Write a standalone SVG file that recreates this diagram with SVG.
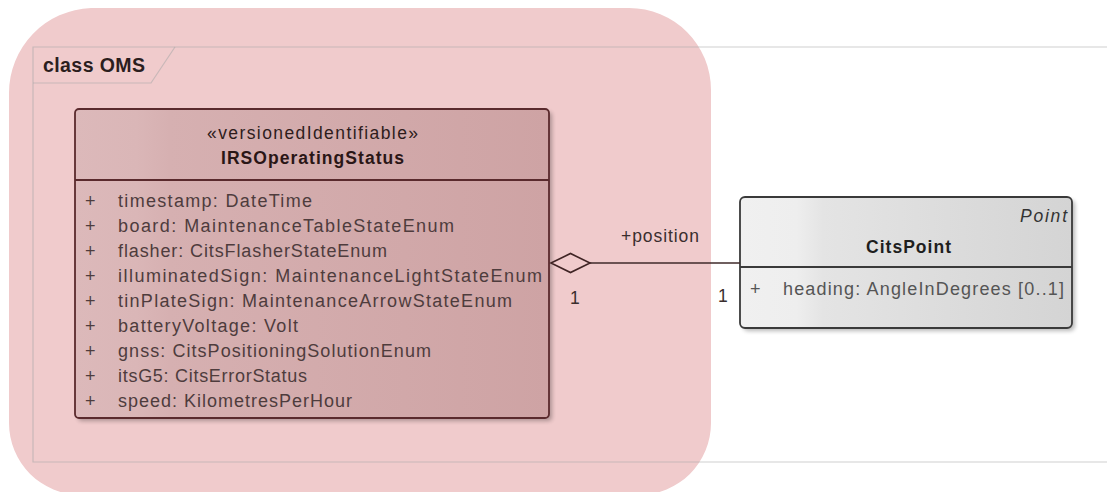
<svg xmlns="http://www.w3.org/2000/svg" width="1107" height="492" viewBox="0 0 1107 492">
<defs>
<linearGradient id="gIrs" x1="0" y1="0" x2="1" y2="0">
<stop offset="0" stop-color="#dcb9ba"/>
<stop offset="0.13" stop-color="#dab6b7"/>
<stop offset="0.2" stop-color="#d6b0b1"/>
<stop offset="1" stop-color="#cea3a4"/>
</linearGradient>
<linearGradient id="gPt" x1="0" y1="0" x2="1" y2="0">
<stop offset="0" stop-color="#f0f0f0"/>
<stop offset="0.17" stop-color="#eeeeee"/>
<stop offset="0.25" stop-color="#e4e4e4"/>
<stop offset="1" stop-color="#d4d4d4"/>
</linearGradient>
<filter id="sh" x="-10%" y="-10%" width="130%" height="130%">
<feGaussianBlur stdDeviation="2"/>
</filter>
</defs>
<style>
text{font-family:"Liberation Sans",Arial,sans-serif;}
.frame{fill:none;stroke:#a8a8a8;stroke-opacity:0.55;stroke-width:1.2;}
.attr{font-size:18px;fill:#4e3c3d;}
.attrp{font-size:18px;fill:#555555;}
.bold{font-size:17.5px;font-weight:bold;}
.lbl{font-size:17.5px;fill:#3a2e2e;}
.shadow{fill:#000;opacity:0.28;filter:url(#sh);}
</style>
<rect width="1107" height="492" fill="#ffffff"/>
<path d="M91,8 H629 A82,82 0 0 1 711,90 V423 A72,72 0 0 1 639,495 H81 A72,72 0 0 1 9,423 V93 A85,85 0 0 1 91,8 Z" fill="#f0cbcc"/>
<g id="frame">
<path class="frame" d="M1107,47 H33 V462 H1107"/>
<path class="frame" d="M33,83 H151 L175,47"/>
<text x="43" y="72" font-size="19.5" font-weight="bold" fill="#2b1e1e" textLength="102">class OMS</text>
</g>
<g id="IRSOperatingStatus">
<rect class="shadow" x="78" y="112" width="474" height="309" rx="4"/>
<rect x="75" y="109" width="474" height="309" rx="4" fill="url(#gIrs)" stroke="#5a2a2d" stroke-width="1.8"/>
<line x1="75" y1="180" x2="549" y2="180" stroke="#5a2a2d" stroke-width="1.8"/>
<text x="312.5" y="139" text-anchor="middle" font-size="17.5" fill="#2e1c1c" textLength="211">«versionedIdentifiable»</text>
<text x="312.5" y="164" text-anchor="middle" class="bold" fill="#2a1616" textLength="183">IRSOperatingStatus</text>
<g class="attr">
<text x="85" y="207">+</text><text x="118" y="207" textLength="194">timestamp: DateTime</text>
<text x="85" y="232">+</text><text x="118" y="232" textLength="336">board: MaintenanceTableStateEnum</text>
<text x="85" y="257">+</text><text x="118" y="257" textLength="269">flasher: CitsFlasherStateEnum</text>
<text x="85" y="282">+</text><text x="118" y="282" textLength="424">illuminatedSign: MaintenanceLightStateEnum</text>
<text x="85" y="307">+</text><text x="118" y="307" textLength="394">tinPlateSign: MaintenanceArrowStateEnum</text>
<text x="85" y="332">+</text><text x="118" y="332" textLength="180">batteryVoltage: Volt</text>
<text x="85" y="357">+</text><text x="118" y="357" textLength="313">gnss: CitsPositioningSolutionEnum</text>
<text x="85" y="382">+</text><text x="118" y="382" textLength="189">itsG5: CitsErrorStatus</text>
<text x="85" y="407">+</text><text x="118" y="407" textLength="234">speed: KilometresPerHour</text>
</g>
</g>
<g id="CitsPoint">
<rect class="shadow" x="743" y="200" width="332" height="131" rx="5"/>
<rect x="740" y="197" width="332" height="131" rx="5" fill="url(#gPt)" stroke="#3a3a3a" stroke-width="1.8"/>
<line x1="740" y1="267" x2="1072" y2="267" stroke="#3a3a3a" stroke-width="1.8"/>
<text x="1067" y="222" text-anchor="end" font-size="17.5" font-style="italic" fill="#333333" textLength="47">Point</text>
<text x="908.5" y="253" text-anchor="middle" class="bold" fill="#1e1e1e" textLength="85">CitsPoint</text>
<text x="750" y="295" class="attrp">+</text>
<text x="783" y="295" class="attrp" textLength="281">heading: AngleInDegrees [0..1]</text>
</g>
<g id="connectors">
<line x1="590" y1="263" x2="740" y2="263" stroke="#3f2a2a" stroke-width="1.6"/>
<path d="M551,263 L570.5,253.5 L590,263 L570.5,272.5 Z" fill="#f0cbcc" stroke="#3f2424" stroke-width="1.6"/>
<text x="621" y="242" class="lbl" textLength="78">+position</text>
<text x="570" y="304" class="lbl">1</text>
<text x="718" y="302" class="lbl">1</text>
</g>
</svg>
